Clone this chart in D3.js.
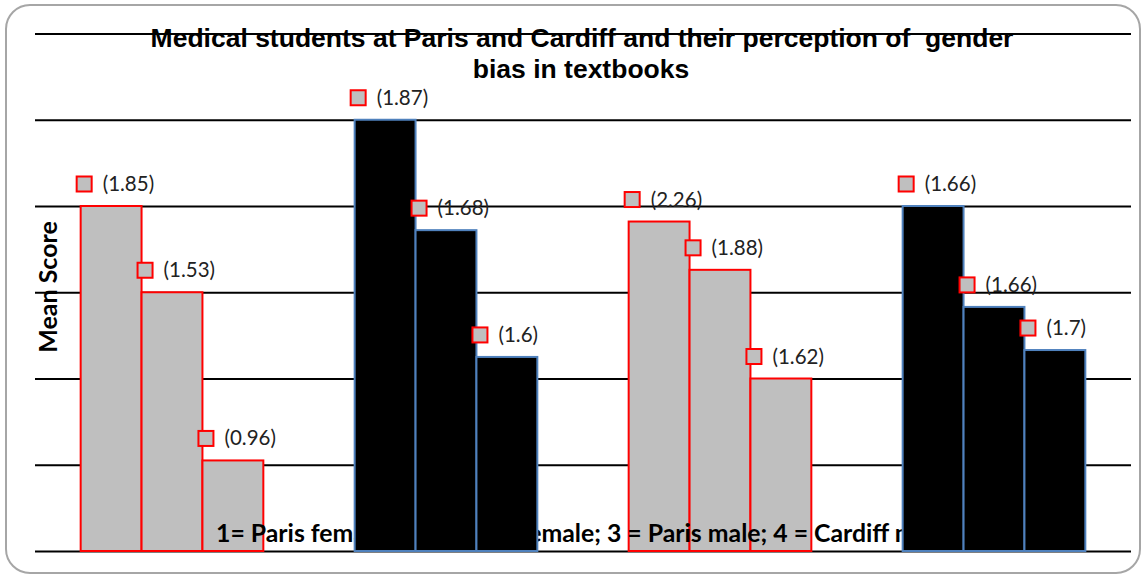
<!DOCTYPE html>
<html lang="en">
<head>
<meta charset="UTF-8">
<title>Medical students perception of gender bias</title>
<script src="https://d3js.org/d3.v7.min.js"></script>
<style>
  body { margin: 0; background: #fff; }
</style>
</head>
<body>
<div id="chart"></div>
<script>
// groups: 1 = Paris female, 2 = Cardiff female, 3 = Paris male, 4 = Cardiff male
var groups = ["1", "2", "3", "4"]
var items = ["a", "b", "c"]

// mean scores (one array per bar position in the group)
var meanA = [4.0, 5.0, 3.82, 4.0]
var meanB = [3.0, 3.72, 3.26, 2.83]
var meanC = [1.05, 2.25, 2.0, 2.33]

// values printed in brackets above each bar
var sdA = [1.85, 1.87, 2.26, 1.66]
var sdB = [1.53, 1.68, 1.88, 1.66]
var sdC = [0.96, 1.6, 1.62, 1.7]

var yTicks = [0, 1, 2, 3, 4, 5, 6]

var width = 1146
var height = 577
var margin = {top: 33.5, bottom: 26, left: 35, right: 16}

var svg = d3.select("#chart")
    .append("svg")
    .attr("width", width)
    .attr("height", height)

// rounded frame
svg.append("rect")
    .attr("x", 6).attr("y", 5)
    .attr("width", 1134).attr("height", 568)
    .attr("rx", 24).attr("ry", 24)
    .attr("fill", "none")
    .attr("stroke", "#a6a6a6")
    .attr("stroke-width", 2)

var x0 = d3.scaleBand()
    .domain(groups)
    .range([margin.left, width - margin.right + 1])
    .paddingInner(1 / 3)
    .paddingOuter(1 / 6)

var x1 = d3.scaleBand()
    .domain(items)
    .range([0, x0.bandwidth()])

var y = d3.scaleLinear()
    .domain([0, 6])
    .range([height - margin.bottom, margin.top])

// gridlines (no tick labels in the original)
var grid = svg.append("g")
    .attr("transform", "translate(" + margin.left + ",0)")
    .call(d3.axisLeft(y).tickValues(yTicks).tickFormat("")
        .tickSize(-(width - margin.left - margin.right + 1)))
grid.select(".domain").remove()
grid.selectAll("line").attr("stroke", "#000").attr("stroke-width", 2)

// title
var title = svg.append("text")
    .attr("text-anchor", "middle")
    .style("font-family", "'Liberation Sans', Arial, sans-serif")
    .style("font-weight", "bold")
    .style("font-size", "26.5px")
    .style("white-space", "pre")
    .attr("fill", "#000")
title.append("tspan").attr("x", 582).attr("y", 47)
    .text("Medical students at Paris and Cardiff and their perception of  gender")
title.append("tspan").attr("x", 581).attr("y", 78)
    .text("bias in textbooks")

// y axis title
svg.append("text")
    .attr("transform", "translate(57,287) rotate(-90)")
    .attr("text-anchor", "middle")
    .style("font-family", "Lato, sans-serif")
    .style("font-weight", "bold")
    .style("font-size", "25px")
    .attr("fill", "#000")
    .text("Mean Score")

// flatten data
var bars = []
groups.forEach(function (g, i) {
    var means = [meanA[i], meanB[i], meanC[i]]
    var sds = [sdA[i], sdB[i], sdC[i]]
    items.forEach(function (it, j) {
        bars.push({group: g, item: it, mean: means[j], sd: sds[j], paris: (i % 2 === 0)})
    })
})

function drawBars(sel, data) {
    sel.selectAll("rect.bar")
        .data(data)
        .enter()
        .append("rect")
        .attr("class", "bar")
        .attr("x", function (d) { return x0(d.group) + x1(d.item) })
        .attr("y", function (d) { return y(d.mean) })
        .attr("width", x1.bandwidth())
        .attr("height", function (d) { return y(0) - y(d.mean) })
        .attr("fill", function (d) { return d.paris ? "#bfbfbf" : "#000" })
        .attr("stroke", function (d) { return d.paris ? "#ff0000" : "#4f81bd" })
        .attr("stroke-width", 2)
}

drawBars(svg.append("g"), bars.filter(function (d) { return d.paris }))

// bottom note sits behind the black bars
svg.append("text")
    .attr("x", 216)
    .attr("y", 542)
    .style("font-family", "Lato, sans-serif")
    .style("font-weight", "bold")
    .style("font-size", "24.8px")
    .attr("fill", "#000")
    .text("1= Paris female; 2 = Cardiff female; 3 = Paris male; 4 = Cardiff male")

drawBars(svg.append("g"), bars.filter(function (d) { return !d.paris }))

// data labels: legend key + bracketed value
var labels = svg.append("g")
    .selectAll("g")
    .data(bars)
    .enter()
    .append("g")
    .attr("transform", function (d) {
        return "translate(" + (x0(d.group) + x1(d.item) - 4) + "," + (y(d.mean) - 22) + ")"
    })
labels.append("rect")
    .attr("x", 0).attr("y", -7.5)
    .attr("width", 15).attr("height", 15)
    .attr("fill", "#bfbfbf")
    .attr("stroke", "#ff0000")
    .attr("stroke-width", 2)
labels.append("text")
    .attr("x", 26)
    .attr("y", 7)
    .style("font-family", "Lato, sans-serif")
    .style("font-size", "20.5px")
    .attr("fill", "#222")
    .text(function (d) { return "(" + d.sd + ")" })
</script>
</body>
</html>
